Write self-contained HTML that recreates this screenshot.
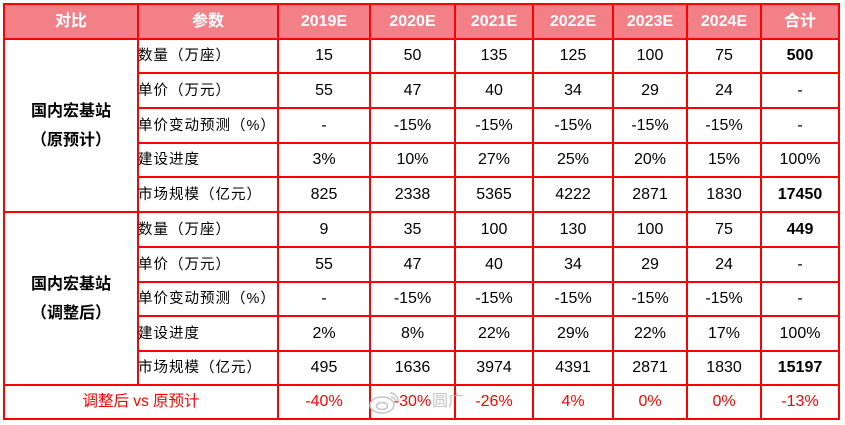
<!DOCTYPE html>
<html>
<head>
<meta charset="utf-8">
<style>
html,body{margin:0;padding:0;background:#fff;}
body{width:845px;height:425px;position:relative;overflow:hidden;
  font-family:"Liberation Sans","Noto Sans CJK SC",sans-serif;color:#000;}
.hl,.vl{position:absolute;background:#ff0000;}
.t{position:absolute;display:flex;align-items:center;justify-content:center;
  white-space:nowrap;font-size:16px;line-height:20px;}
.h{color:#fff;font-weight:bold;font-size:16px;}
.p{justify-content:flex-start;font-size:14.5px;letter-spacing:1px;font-family:"Liberation Sans","Noto Sans CJK SC",sans-serif;}
.b{font-weight:bold;}
.red{color:#ff0000;}
.c0{left:5px;width:132px}
.c1{left:138px;width:139px}
.c2{left:279px;width:90px}
.c3{left:371px;width:83px}
.c4{left:456px;width:76px}
.c5{left:534px;width:78px}
.c6{left:614px;width:72px}
.c7{left:688px;width:72px}
.c8{left:762px;width:76px}
.r0{top:5px;height:33px}
.r1{top:40px;height:32px}
.r2{top:74px;height:33px}
.r3{top:109px;height:33px}
.r4{top:144px;height:32px}
.r5{top:178px;height:33px}
.r6{top:213px;height:33px}
.r7{top:248px;height:33px}
.r8{top:283px;height:32px}
.r9{top:317px;height:33px}
.r10{top:352px;height:32px}
.r11{top:386px;height:32px}
.grp{position:absolute;left:5px;width:132px;text-align:center;font-weight:bold;font-size:16px;line-height:29px;
  font-family:"Liberation Sans","Noto Sans CJK SC",sans-serif;}
</style>
</head>
<body>
<!-- header background -->
<div style="position:absolute;left:3px;top:3px;width:837px;height:37px;background:#f28086;"></div>

<!-- horizontal lines -->
<div class="hl" style="left:3px;top:3px;width:837px;height:2px"></div>
<div class="hl" style="left:3px;top:38px;width:837px;height:2px"></div>
<div class="hl" style="left:137px;top:72px;width:703px;height:2px"></div>
<div class="hl" style="left:137px;top:107px;width:703px;height:2px"></div>
<div class="hl" style="left:137px;top:142px;width:703px;height:2px"></div>
<div class="hl" style="left:137px;top:176px;width:703px;height:2px"></div>
<div class="hl" style="left:3px;top:211px;width:837px;height:2px"></div>
<div class="hl" style="left:137px;top:246px;width:703px;height:2px"></div>
<div class="hl" style="left:137px;top:281px;width:703px;height:2px"></div>
<div class="hl" style="left:137px;top:315px;width:703px;height:2px"></div>
<div class="hl" style="left:137px;top:350px;width:703px;height:2px"></div>
<div class="hl" style="left:3px;top:384px;width:837px;height:2px"></div>
<div class="hl" style="left:3px;top:418px;width:837px;height:2px"></div>

<!-- vertical lines -->
<div class="vl" style="left:3px;top:3px;width:2px;height:417px"></div>
<div class="vl" style="left:137px;top:3px;width:2px;height:383px"></div>
<div class="vl" style="left:277px;top:3px;width:2px;height:417px"></div>
<div class="vl" style="left:369px;top:3px;width:2px;height:417px"></div>
<div class="vl" style="left:454px;top:3px;width:2px;height:417px"></div>
<div class="vl" style="left:532px;top:3px;width:2px;height:417px"></div>
<div class="vl" style="left:612px;top:3px;width:2px;height:417px"></div>
<div class="vl" style="left:686px;top:3px;width:2px;height:417px"></div>
<div class="vl" style="left:760px;top:3px;width:2px;height:417px"></div>
<div class="vl" style="left:838px;top:3px;width:2px;height:417px"></div>

<!-- header -->
<div class="t h c0 r0">对比</div>
<div class="t h r0" style="left:139px;width:138px">参数</div>
<div class="t h c2 r0">2019E</div>
<div class="t h c3 r0">2020E</div>
<div class="t h c4 r0">2021E</div>
<div class="t h c5 r0">2022E</div>
<div class="t h c6 r0">2023E</div>
<div class="t h c7 r0">2024E</div>
<div class="t h c8 r0">合计</div>

<!-- group labels -->
<div class="grp" style="top:97px;">国内宏基站<br>（原预计）</div>
<div class="grp" style="top:270px;">国内宏基站<br>（调整后）</div>

<!-- group 1 -->
<div class="t p c1 r1">数量（万座）</div>
<div class="t c2 r1">15</div><div class="t c3 r1">50</div><div class="t c4 r1">135</div><div class="t c5 r1">125</div><div class="t c6 r1">100</div><div class="t c7 r1">75</div><div class="t b c8 r1">500</div>

<div class="t p c1 r2">单价（万元）</div>
<div class="t c2 r2">55</div><div class="t c3 r2">47</div><div class="t c4 r2">40</div><div class="t c5 r2">34</div><div class="t c6 r2">29</div><div class="t c7 r2">24</div><div class="t c8 r2">-</div>

<div class="t p c1 r3">单价变动预测（%）</div>
<div class="t c2 r3">-</div><div class="t c3 r3">-15%</div><div class="t c4 r3">-15%</div><div class="t c5 r3">-15%</div><div class="t c6 r3">-15%</div><div class="t c7 r3">-15%</div><div class="t c8 r3">-</div>

<div class="t p c1 r4">建设进度</div>
<div class="t c2 r4">3%</div><div class="t c3 r4">10%</div><div class="t c4 r4">27%</div><div class="t c5 r4">25%</div><div class="t c6 r4">20%</div><div class="t c7 r4">15%</div><div class="t c8 r4">100%</div>

<div class="t p c1 r5">市场规模（亿元）</div>
<div class="t c2 r5">825</div><div class="t c3 r5">2338</div><div class="t c4 r5">5365</div><div class="t c5 r5">4222</div><div class="t c6 r5">2871</div><div class="t c7 r5">1830</div><div class="t b c8 r5">17450</div>

<!-- group 2 -->
<div class="t p c1 r6">数量（万座）</div>
<div class="t c2 r6">9</div><div class="t c3 r6">35</div><div class="t c4 r6">100</div><div class="t c5 r6">130</div><div class="t c6 r6">100</div><div class="t c7 r6">75</div><div class="t b c8 r6">449</div>

<div class="t p c1 r7">单价（万元）</div>
<div class="t c2 r7">55</div><div class="t c3 r7">47</div><div class="t c4 r7">40</div><div class="t c5 r7">34</div><div class="t c6 r7">29</div><div class="t c7 r7">24</div><div class="t c8 r7">-</div>

<div class="t p c1 r8">单价变动预测（%）</div>
<div class="t c2 r8">-</div><div class="t c3 r8">-15%</div><div class="t c4 r8">-15%</div><div class="t c5 r8">-15%</div><div class="t c6 r8">-15%</div><div class="t c7 r8">-15%</div><div class="t c8 r8">-</div>

<div class="t p c1 r9">建设进度</div>
<div class="t c2 r9">2%</div><div class="t c3 r9">8%</div><div class="t c4 r9">22%</div><div class="t c5 r9">29%</div><div class="t c6 r9">22%</div><div class="t c7 r9">17%</div><div class="t c8 r9">100%</div>

<div class="t p c1 r10">市场规模（亿元）</div>
<div class="t c2 r10">495</div><div class="t c3 r10">1636</div><div class="t c4 r10">3974</div><div class="t c5 r10">4391</div><div class="t c6 r10">2871</div><div class="t c7 r10">1830</div><div class="t b c8 r10">15197</div>

<!-- comparison row -->
<div class="t red r11" style="left:5px;width:272px;font-size:15.5px;">调整后 vs 原预计</div>
<div class="t red c2 r11">-40%</div>
<div class="t red c3 r11">-30%</div>
<div class="t red c4 r11">-26%</div>
<div class="t red c5 r11">4%</div>
<div class="t red c6 r11">0%</div>
<div class="t red c7 r11">0%</div>
<div class="t red c8 r11">-13%</div>

<!-- watermark -->
<svg style="position:absolute;left:368px;top:389px;" width="34" height="26" viewBox="0 0 34 26">
  <ellipse cx="14" cy="16" rx="12" ry="8" fill="rgba(255,255,255,0.7)" stroke="#c4c4c4" stroke-width="1.5"/>
  <ellipse cx="14" cy="17" rx="5.5" ry="3.5" fill="none" stroke="#c4c4c4" stroke-width="1.5"/>
  <path d="M22 4 A8 8 0 0 1 30 12" fill="none" stroke="#c4c4c4" stroke-width="1.5"/>
  <path d="M23 8 A4 4 0 0 1 27 12" fill="none" stroke="#c4c4c4" stroke-width="1.5"/>
</svg>
<div style="position:absolute;left:432px;top:392px;font-size:16px;line-height:20px;color:rgba(185,185,185,0.8);font-family:'Liberation Sans','Noto Sans CJK SC',sans-serif;">圆广</div>
</body>
</html>
